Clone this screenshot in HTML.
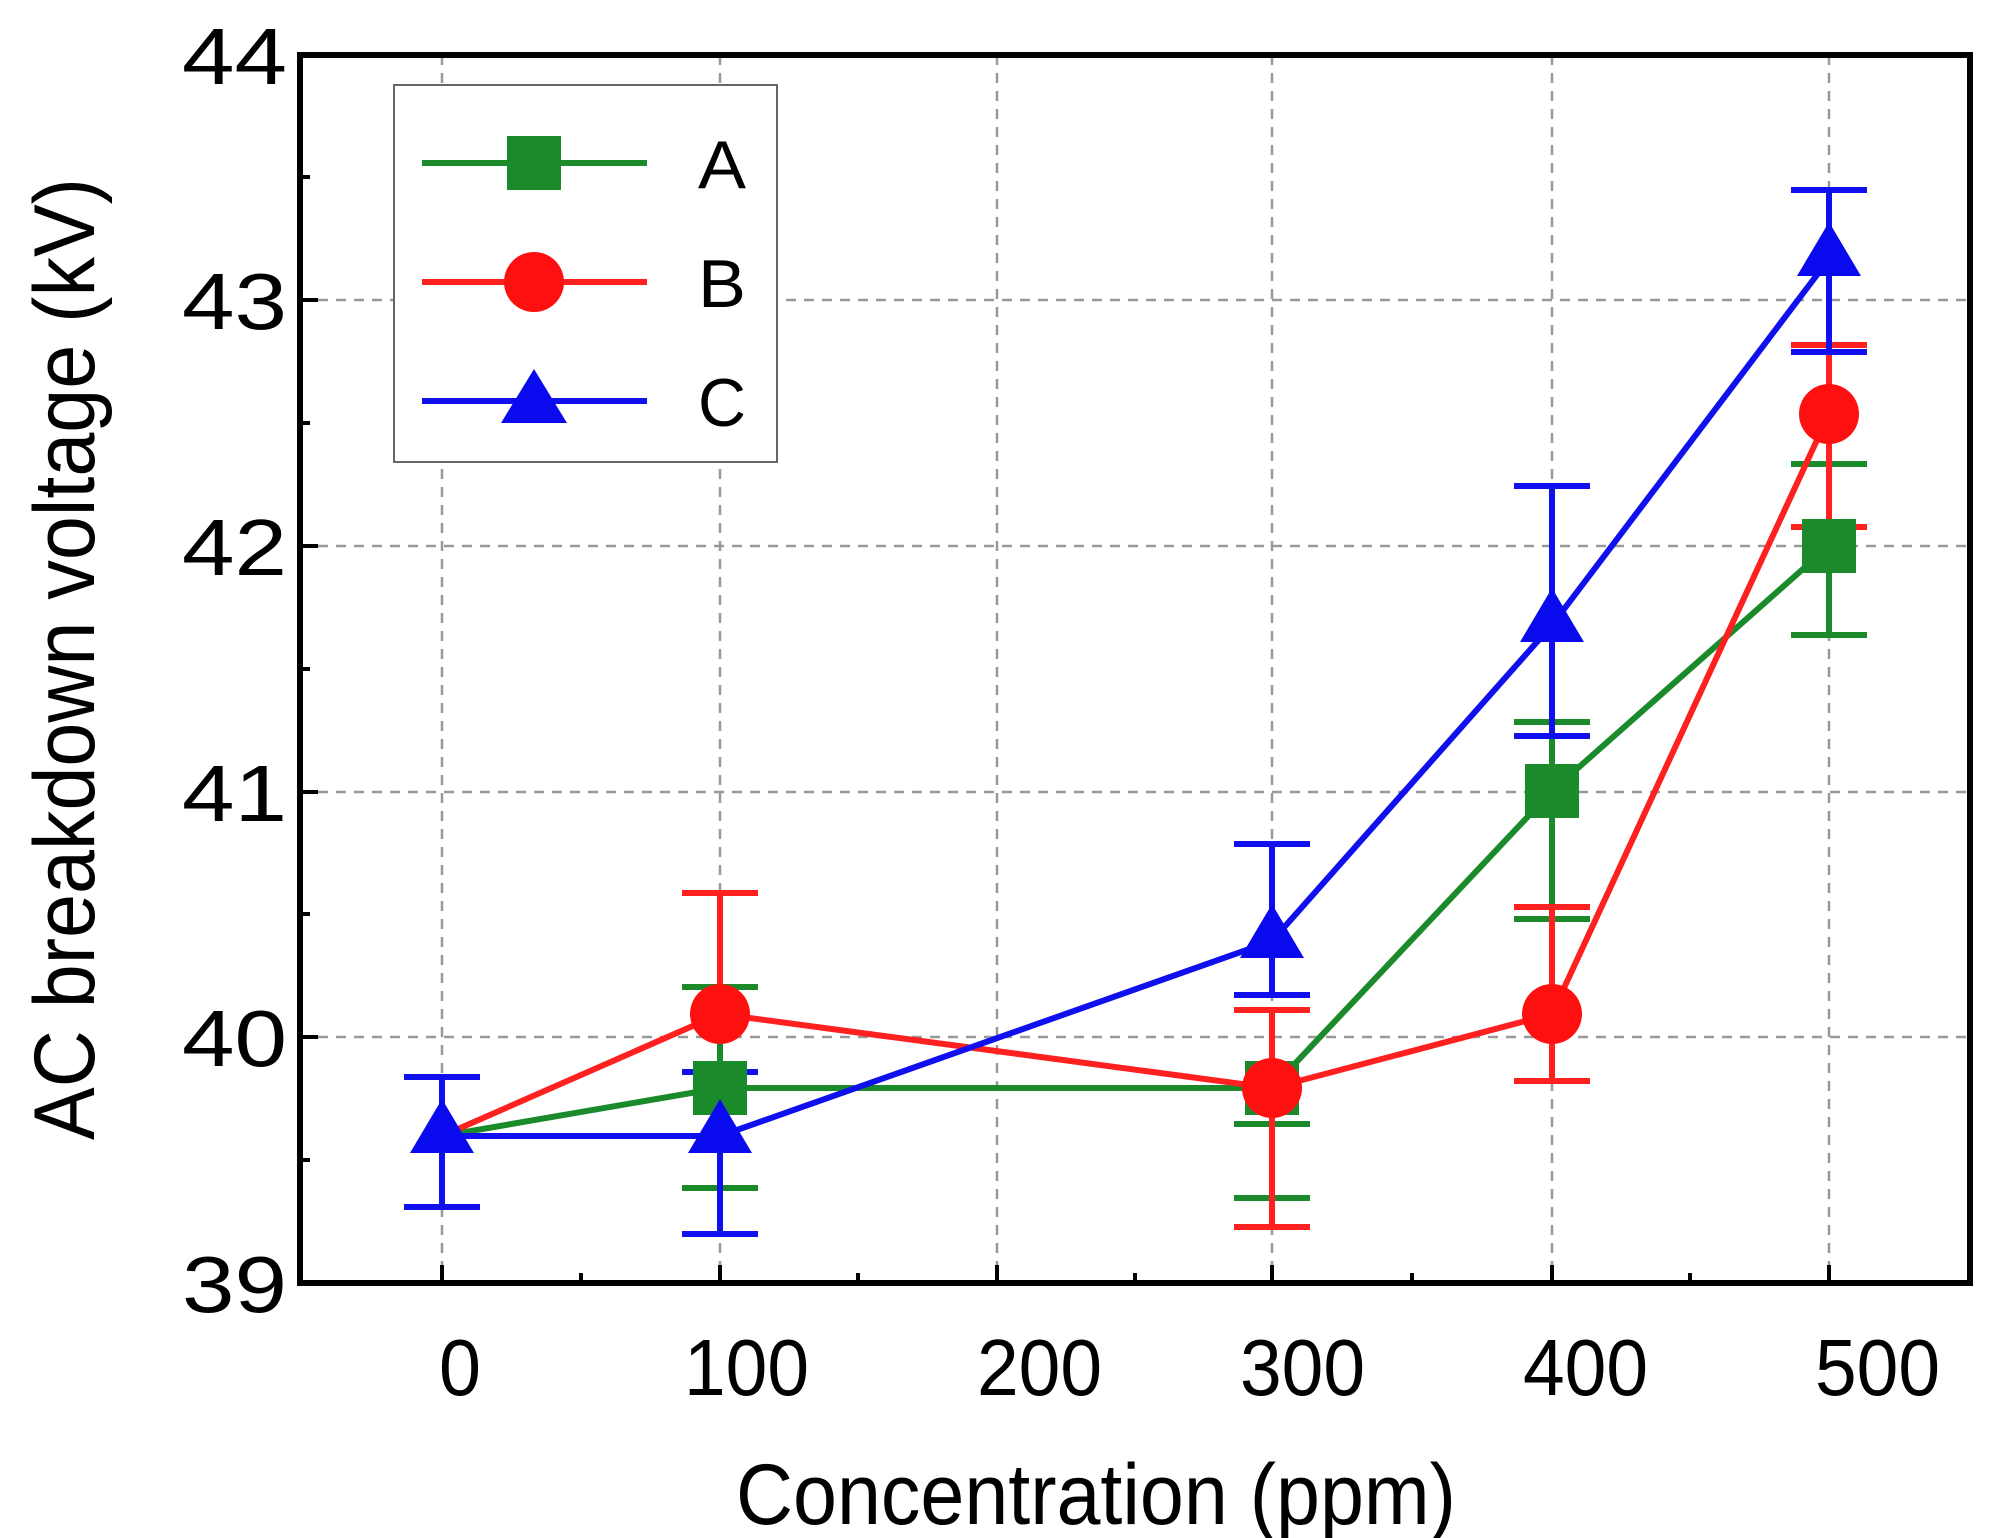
<!DOCTYPE html>
<html><head><style>body{margin:0;background:#fff}svg{display:block}</style></head><body>
<svg width="1993" height="1538" viewBox="0 0 1993 1538" xmlns="http://www.w3.org/2000/svg" font-family="Liberation Sans, sans-serif">
<g stroke="#999" stroke-width="2.5" stroke-dasharray="10,8" fill="none">
<line x1="442" y1="55" x2="442" y2="1283"/><line x1="720" y1="55" x2="720" y2="1283"/><line x1="997" y1="55" x2="997" y2="1283"/><line x1="1272" y1="55" x2="1272" y2="1283"/><line x1="1552" y1="55" x2="1552" y2="1283"/><line x1="1829" y1="55" x2="1829" y2="1283"/>
<line x1="300" y1="300" x2="1970" y2="300"/><line x1="300" y1="546" x2="1970" y2="546"/><line x1="300" y1="792" x2="1970" y2="792"/><line x1="300" y1="1037" x2="1970" y2="1037"/>
</g>
<rect x="300" y="55" width="1670" height="1228" fill="none" stroke="#000" stroke-width="6"/>
<g stroke="#000" stroke-width="4">
<line x1="300" y1="300" x2="318" y2="300"/><line x1="300" y1="546" x2="318" y2="546"/><line x1="300" y1="792" x2="318" y2="792"/><line x1="300" y1="1037" x2="318" y2="1037"/>
<line x1="300" y1="177" x2="310" y2="177"/><line x1="300" y1="423" x2="310" y2="423"/><line x1="300" y1="669" x2="310" y2="669"/><line x1="300" y1="914" x2="310" y2="914"/><line x1="300" y1="1160" x2="310" y2="1160"/>
<line x1="442" y1="1283" x2="442" y2="1265"/><line x1="720" y1="1283" x2="720" y2="1265"/><line x1="997" y1="1283" x2="997" y2="1265"/><line x1="1272" y1="1283" x2="1272" y2="1265"/><line x1="1552" y1="1283" x2="1552" y2="1265"/><line x1="1829" y1="1283" x2="1829" y2="1265"/>
<line x1="581" y1="1283" x2="581" y2="1273"/><line x1="858" y1="1283" x2="858" y2="1273"/><line x1="1135" y1="1283" x2="1135" y2="1273"/><line x1="1412" y1="1283" x2="1412" y2="1273"/><line x1="1690" y1="1283" x2="1690" y2="1273"/>
</g>
<g font-size="80" fill="#000">
<text x="182" y="84" textLength="105" lengthAdjust="spacingAndGlyphs">44</text>
<text x="182" y="329" textLength="105" lengthAdjust="spacingAndGlyphs">43</text>
<text x="182" y="575" textLength="105" lengthAdjust="spacingAndGlyphs">42</text>
<text x="182" y="821" textLength="105" lengthAdjust="spacingAndGlyphs">41</text>
<text x="182" y="1066" textLength="105" lengthAdjust="spacingAndGlyphs">40</text>
<text x="182" y="1312" textLength="105" lengthAdjust="spacingAndGlyphs">39</text>
<text x="439" y="1395" textLength="42" lengthAdjust="spacingAndGlyphs">0</text>
<text x="684" y="1395" textLength="125" lengthAdjust="spacingAndGlyphs">100</text>
<text x="977" y="1395" textLength="125" lengthAdjust="spacingAndGlyphs">200</text>
<text x="1240" y="1395" textLength="125" lengthAdjust="spacingAndGlyphs">300</text>
<text x="1523" y="1395" textLength="125" lengthAdjust="spacingAndGlyphs">400</text>
<text x="1815" y="1395" textLength="125" lengthAdjust="spacingAndGlyphs">500</text>
<text x="736" y="1524" font-size="86" textLength="720" lengthAdjust="spacingAndGlyphs">Concentration (ppm)</text>
<text transform="translate(94,1140) rotate(-90)" font-size="86" textLength="962" lengthAdjust="spacingAndGlyphs">AC breakdown voltage (kV)</text>
</g>
<!-- A green -->
<g stroke="#1a8a2a" stroke-width="6" fill="none">
<polyline points="442,1136 720,1088 1272,1088 1552,791 1829,546"/>
<path d="M720,1188V987M682,1188h76M682,987h76 M1272,1198V1124M1234,1198h76M1234,1124h76 M1272,1088V1124 M1552,919V722M1514,919h76M1514,722h76 M1829,635V464M1791,635h76M1791,464h76"/>
</g>
<!-- B red -->
<g stroke="#ff2020" stroke-width="6" fill="none">
<polyline points="442,1136 720,1014 1272,1088 1552,1014 1829,414"/>
<path d="M720,1014V893M682,893h76 M1272,1227V1010M1234,1227h76M1234,1010h76 M1552,1081V907M1514,1081h76M1514,907h76 M1829,527V345M1791,527h76M1791,345h76"/>
</g>
<!-- C blue -->
<g stroke="#1010ee" stroke-width="6" fill="none">
<polyline points="442,1136 720,1136 1272,941 1552,625 1829,259"/>
<path d="M442,1207V1077M404,1207h76M404,1077h76 M720,1234V1072M682,1234h76M682,1072h76 M1272,995V844M1234,995h76M1234,844h76 M1552,736V486M1514,736h76M1514,486h76 M1829,352V190M1791,352h76M1791,190h76"/>
</g>
<g fill="#1a8a2a"><rect x="693" y="1061" width="54" height="54"/><rect x="1245" y="1061" width="54" height="54"/><rect x="1525" y="764" width="54" height="54"/><rect x="1802" y="519" width="54" height="54"/></g>
<g fill="#ff1010"><circle cx="720" cy="1014" r="30"/><circle cx="1272" cy="1088" r="30"/><circle cx="1552" cy="1014" r="30"/><circle cx="1829" cy="414" r="30"/></g>
<g fill="#0a0aee">
<polygon points="442,1099 410,1153 474,1153"/><polygon points="720,1099 688,1153 752,1153"/><polygon points="1272,904 1240,958 1304,958"/><polygon points="1552,588 1520,642 1584,642"/><polygon points="1829,222 1797,276 1861,276"/>
</g>
<!-- legend -->
<rect x="394" y="85" width="383" height="377" fill="#fff" stroke="#666" stroke-width="2"/>
<line x1="422" y1="163" x2="647" y2="163" stroke="#1a8a2a" stroke-width="6"/><rect x="507" y="136" width="54" height="54" fill="#1a8a2a"/>
<line x1="422" y1="282" x2="647" y2="282" stroke="#ff2020" stroke-width="6"/><circle cx="534" cy="282" r="30" fill="#ff1010"/>
<line x1="422" y1="401" x2="647" y2="401" stroke="#1010ee" stroke-width="6"/><polygon points="534,369 501,423 567,423" fill="#0a0aee"/>
<g font-size="68" fill="#000">
<text x="698" y="188" textLength="48" lengthAdjust="spacingAndGlyphs">A</text>
<text x="698" y="307" textLength="48" lengthAdjust="spacingAndGlyphs">B</text>
<text x="698" y="426" textLength="48" lengthAdjust="spacingAndGlyphs">C</text>
</g>
</svg>
</body></html>
